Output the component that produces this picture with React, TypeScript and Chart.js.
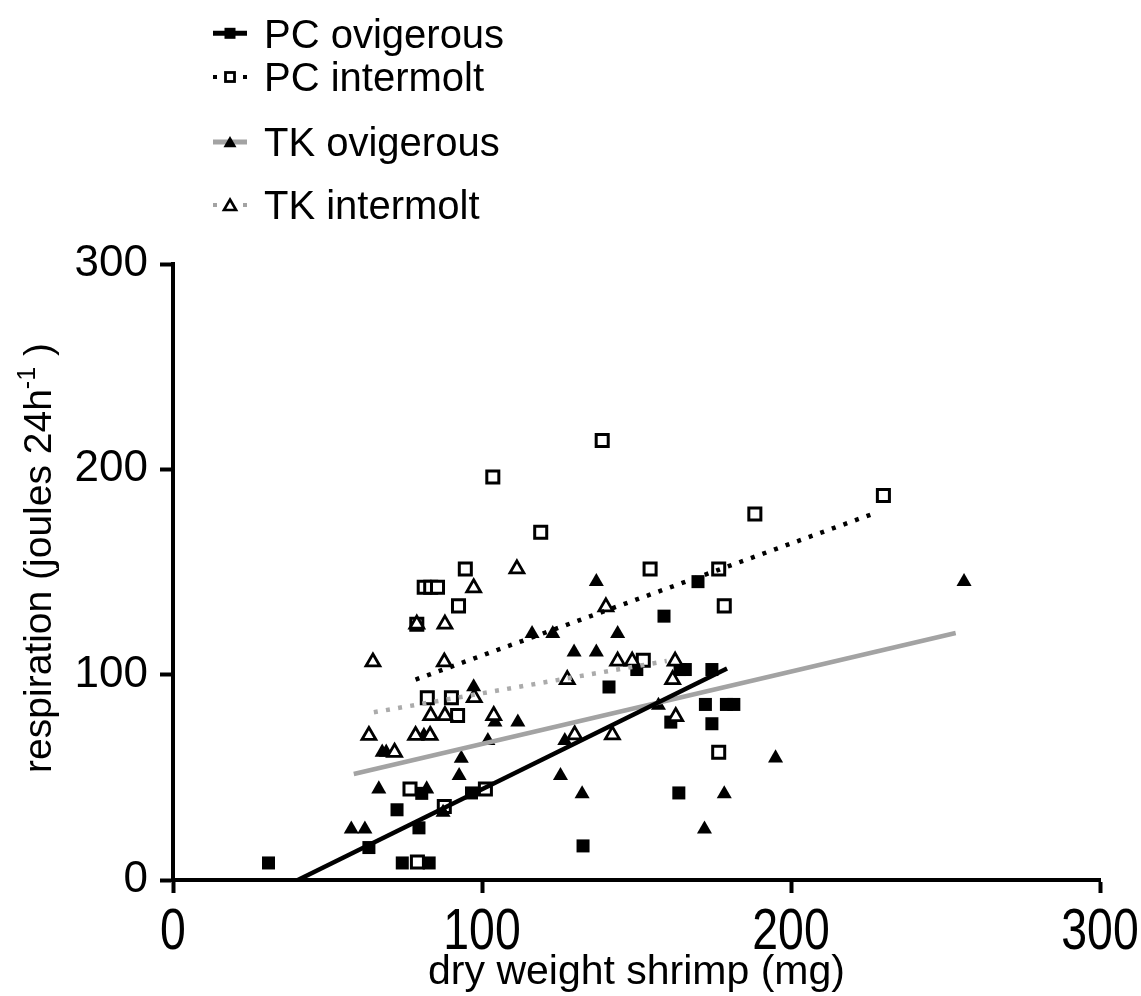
import React, { useEffect, useRef } from 'react';
import { Chart, registerables } from 'chart.js';

Chart.register(...registerables);

const FONT = "'Liberation Sans', Arial, Helvetica, sans-serif";

// ---- data (dry weight mg, respiration J/24h) ----
const pcOviX = [30.9, 63.4, 72.5, 74.2, 79.6, 80.5, 82.9, 96.6, 132.7, 141.1, 150.1, 158.9, 161.1, 163.7, 164.1, 165.8, 169.9, 172.3, 174.4, 174.4, 179.1, 181.5];
const pcOviY = [8.3, 15.8, 34.2, 8.3, 25.4, 42.2, 8.3, 42.4, 16.6, 94, 102.5, 128.5, 76.9, 42.4, 102.5, 102.5, 145.3, 85.5, 102.5, 76.1, 85.5, 85.5];

const pcIntX = [76.7, 79.1, 78.9, 81.3, 83.4, 85.6, 82.3, 87.8, 90.1, 92.1, 92.4, 94.6, 101.1, 103.5, 119, 138.9, 152.2, 154.4, 176.6, 178.4, 176.6, 188.3, 229.9];
const pcIntY = [44.3, 8.8, 124.6, 142.6, 142.6, 142.6, 88.8, 35.8, 88.8, 80.1, 133.5, 151.5, 44.3, 196.3, 169.4, 214, 107, 151.5, 151.5, 133.5, 62.2, 178.2, 187.3];

const tkOviX = [57.7, 62.1, 66.6, 67.7, 69.0, 81.2, 82.1, 87.4, 92.6, 93.3, 97.3, 101.9, 104.2, 111.6, 116.2, 122.9, 125.4, 126.8, 129.8, 132.4, 137, 137, 143.9, 157.1, 172, 178.4, 195, 256];
const tkOviY = [24.8, 24.8, 44.3, 62.2, 62.2, 70.4, 44.3, 32.9, 50.8, 59.2, 94, 67.9, 76.9, 76.9, 120, 120, 50.8, 67.9, 111, 41.9, 111, 145.3, 120, 85, 24.8, 41.9, 59.4, 145.3];

const tkIntX = [63.4, 64.7, 71.7, 78.5, 78.9, 83.2, 83.4, 87.8, 88, 88, 97.3, 97.5, 103.8, 111.3, 127.6, 130, 140.1, 142.2, 143.9, 148.6, 161.7, 162.5, 162.7];
const tkIntY = [70.4, 106.2, 62.2, 70.4, 124.6, 70.4, 80.1, 106.2, 80.1, 124.6, 142.3, 88.8, 80.1, 151.5, 97.6, 70.7, 133, 70.7, 106.6, 106.6, 97.6, 106.6, 79.6];

// regression lines (end points)
const pcOviLineX = [40.4, 179.3];
const pcOviLineY = [0, 103];
const pcIntLineX = [78.5, 227.2];
const pcIntLineY = [97.6, 178.7];
const tkOviLineX = [58.5, 253.3];
const tkOviLineY = [51.6, 120.3];
const tkIntLineX = [65, 159.8];
const tkIntLineY = [81.7, 106.7];

const legendLabels = ['PC ovigerous', 'PC intermolt', 'TK ovigerous', 'TK intermolt'];
const xTickValues = [0, 100, 200, 300];
const yTickValues = [0, 100, 200, 300];
const xTitle = 'dry weight shrimp (mg)';
const yTitleMain = 'respiration (joules 24h';
const yTitleSup = '-1';
const yTitleEnd = ' )';

const pts = (xs: number[], ys: number[]) => xs.map((x, i) => ({ x, y: ys[i] }));

const GRAY = '#a3a3a3';

function drawSquare(ctx: CanvasRenderingContext2D, x: number, y: number, side: number, filled: boolean, bw: number) {
  if (filled) {
    ctx.fillStyle = '#000';
    ctx.fillRect(x - side / 2, y - side / 2, side, side);
  } else {
    ctx.fillStyle = '#fff';
    ctx.fillRect(x - side / 2, y - side / 2, side, side);
    ctx.lineWidth = bw;
    ctx.strokeStyle = '#000';
    ctx.strokeRect(x - side / 2, y - side / 2, side, side);
  }
}

function drawTri(ctx: CanvasRenderingContext2D, x: number, y: number, r: number, filled: boolean, bw: number) {
  ctx.beginPath();
  ctx.moveTo(x, y - r);
  ctx.lineTo(x + r * Math.sin((2 * Math.PI) / 3), y - r * Math.cos((2 * Math.PI) / 3));
  ctx.lineTo(x + r * Math.sin((4 * Math.PI) / 3), y - r * Math.cos((4 * Math.PI) / 3));
  ctx.closePath();
  if (filled) {
    ctx.fillStyle = '#000';
    ctx.fill();
  } else {
    ctx.fillStyle = '#fff';
    ctx.fill();
    ctx.lineWidth = bw;
    ctx.strokeStyle = '#000';
    ctx.stroke();
  }
}

const annotationPlugin = {
  id: 'customAnnotations',
  afterDraw(chart: any) {
    const ctx: CanvasRenderingContext2D = chart.ctx;
    ctx.save();
    // ---- legend ----
    const baselines = [47.5, 91, 156, 219];
    const centers = [33.3, 77, 142, 205];
    const mx = 230;
    ctx.font = `40px ${FONT}`;
    ctx.textBaseline = 'alphabetic';
    ctx.textAlign = 'left';
    legendLabels.forEach((lab, i) => {
      ctx.fillStyle = '#000';
      ctx.fillText(lab, 264, baselines[i]);
    });
    // row 1: black line + filled square
    let cy = centers[0];
    ctx.strokeStyle = '#000';
    ctx.lineWidth = 5;
    ctx.beginPath();
    ctx.moveTo(213, cy);
    ctx.lineTo(247, cy);
    ctx.stroke();
    drawSquare(ctx, mx, cy, 11, true, 0);
    // row 2: black dots + open square
    cy = centers[1];
    ctx.fillStyle = '#000';
    ctx.fillRect(213, cy - 2, 4, 4);
    ctx.fillRect(243, cy - 2, 4, 4);
    drawSquare(ctx, mx, cy, 9, false, 2.8);
    // row 3: gray line + filled triangle
    cy = centers[2];
    ctx.strokeStyle = GRAY;
    ctx.lineWidth = 5;
    ctx.beginPath();
    ctx.moveTo(213, cy);
    ctx.lineTo(247, cy);
    ctx.stroke();
    drawTri(ctx, mx, cy + 1.5, 7.5, true, 0);
    // row 4: gray dots + open triangle
    cy = centers[3];
    ctx.fillStyle = GRAY;
    ctx.fillRect(213, cy - 2, 4, 4);
    ctx.fillRect(243, cy - 2, 4, 4);
    drawTri(ctx, mx, cy + 1.5, 7, false, 2.6);

    // ---- x tick labels (condensed) ----
    const xs = chart.scales.x;
    ctx.fillStyle = '#000';
    ctx.font = `58px ${FONT}`;
    ctx.textAlign = 'center';
    ctx.textBaseline = 'alphabetic';
    xTickValues.forEach((v) => {
      const px = xs.getPixelForValue(v);
      ctx.save();
      ctx.translate(px, 949);
      ctx.scale(0.8, 1);
      ctx.fillText(String(v), 0, 0);
      ctx.restore();
    });

    // ---- axis titles ----
    const area = chart.chartArea;
    ctx.fillStyle = '#000';
    ctx.font = `41px ${FONT}`;
    ctx.textAlign = 'center';
    ctx.textBaseline = 'alphabetic';
    ctx.fillText(xTitle, (area.left + area.right) / 2, 984);

    ctx.save();
    ctx.translate(51, (area.top + area.bottom) / 2 - 14);
    ctx.rotate(-Math.PI / 2);
    const mainFont = `39px ${FONT}`;
    const supFont = `25px ${FONT}`;
    ctx.font = mainFont;
    const w1 = ctx.measureText(yTitleMain).width;
    const w3 = ctx.measureText(yTitleEnd).width;
    ctx.font = supFont;
    const w2 = ctx.measureText(yTitleSup).width;
    const total = w1 + w2 + w3;
    let sx = -total / 2;
    ctx.textAlign = 'left';
    ctx.font = mainFont;
    ctx.fillText(yTitleMain, sx, 0);
    sx += w1;
    ctx.font = supFont;
    ctx.fillText(yTitleSup, sx, -16);
    sx += w2;
    ctx.font = mainFont;
    ctx.fillText(yTitleEnd, sx, 0);
    ctx.restore();

    ctx.restore();
  },
};

export default function App() {
  const ref = useRef<HTMLCanvasElement | null>(null);
  useEffect(() => {
    if (!ref.current) return;
    const lineDs = (xs: number[], ys: number[], color: string, dash: number[]) => ({
      type: 'scatter' as const,
      data: pts(xs, ys),
      showLine: true,
      borderColor: color,
      borderWidth: 4.5,
      borderDash: dash,
      borderCapStyle: 'butt',
      pointRadius: 0,
      pointHoverRadius: 0,
      fill: false,
      order: 0,
      clip: false,
    });
    const chart = new Chart(ref.current, {
      type: 'scatter',
      data: {
        datasets: [
          {
            label: legendLabels[0],
            data: pts(pcOviX, pcOviY),
            pointStyle: 'rect',
            pointRadius: 9.2,
            pointBackgroundColor: '#000',
            pointBorderColor: '#000',
            pointBorderWidth: 0,
            order: 4,
            clip: false,
          },
          {
            label: legendLabels[1],
            data: pts(pcIntX, pcIntY),
            pointStyle: 'rect',
            pointRadius: 8.5,
            pointBackgroundColor: '#fff',
            pointBorderColor: '#000',
            pointBorderWidth: 3,
            order: 3,
            clip: false,
          },
          {
            label: legendLabels[2],
            data: pts(tkOviX, tkOviY),
            pointStyle: 'triangle',
            pointRadius: 8.7,
            pointBackgroundColor: '#000',
            pointBorderColor: '#000',
            pointBorderWidth: 0,
            order: 2,
            clip: false,
          },
          {
            label: legendLabels[3],
            data: pts(tkIntX, tkIntY),
            pointStyle: 'triangle',
            pointRadius: 8,
            pointBackgroundColor: '#fff',
            pointBorderColor: '#000',
            pointBorderWidth: 2.8,
            order: 1,
            clip: false,
          },
          lineDs(pcOviLineX, pcOviLineY, '#000', []),
          lineDs(pcIntLineX, pcIntLineY, '#000', [4, 8.3]),
          lineDs(tkOviLineX, tkOviLineY, GRAY, []),
          lineDs(tkIntLineX, tkIntLineY, '#ababab', [4, 8.3]),
        ] as any,
      },
      options: {
        animation: false,
        responsive: false,
        devicePixelRatio: 1,
        layout: { padding: { top: 264, right: 41, left: 0, bottom: 0 } },
        plugins: { legend: { display: false }, tooltip: { enabled: false } },
        events: [],
        scales: {
          x: {
            type: 'linear',
            min: 0,
            max: 300,
            afterBuildTicks: (scale: any) => {
              scale.ticks = xTickValues.map((v) => ({ value: v }));
            },
            afterFit: (scale: any) => {
              scale.height = 996 - 880;
              scale.paddingLeft = 0;
              scale.paddingRight = 0;
            },
            ticks: {
              color: 'rgba(0,0,0,0)',
              font: { family: FONT, size: 46 },
              padding: 5,
              maxRotation: 0,
              autoSkip: false,
            },
            grid: {
              display: true,
              drawOnChartArea: false,
              drawTicks: true,
              tickLength: 13,
              tickWidth: 4,
              tickColor: '#000',
            },
            border: { display: true, color: '#000', width: 4 },
          },
          y: {
            type: 'linear',
            min: 0,
            max: 300,
            afterBuildTicks: (scale: any) => {
              scale.ticks = yTickValues.map((v) => ({ value: v }));
            },
            afterFit: (scale: any) => {
              scale.width = 173;
              scale.paddingTop = 0;
              scale.paddingBottom = 0;
            },
            ticks: {
              color: '#000',
              font: { family: FONT, size: 44 },
              padding: 12,
              autoSkip: false,
            },
            grid: {
              display: true,
              drawOnChartArea: false,
              drawTicks: true,
              tickLength: 13,
              tickWidth: 4,
              tickColor: '#000',
            },
            border: { display: true, color: '#000', width: 4 },
          },
        },
      } as any,
      plugins: [annotationPlugin],
    });
    return () => chart.destroy();
  }, []);
  return (
    <div style={{ position: 'fixed', left: 0, top: 0, width: 1141, height: 996, background: '#fff' }}>
      <canvas ref={ref} width={1141} height={996} style={{ width: 1141, height: 996, display: 'block' }} />
    </div>
  );
}
